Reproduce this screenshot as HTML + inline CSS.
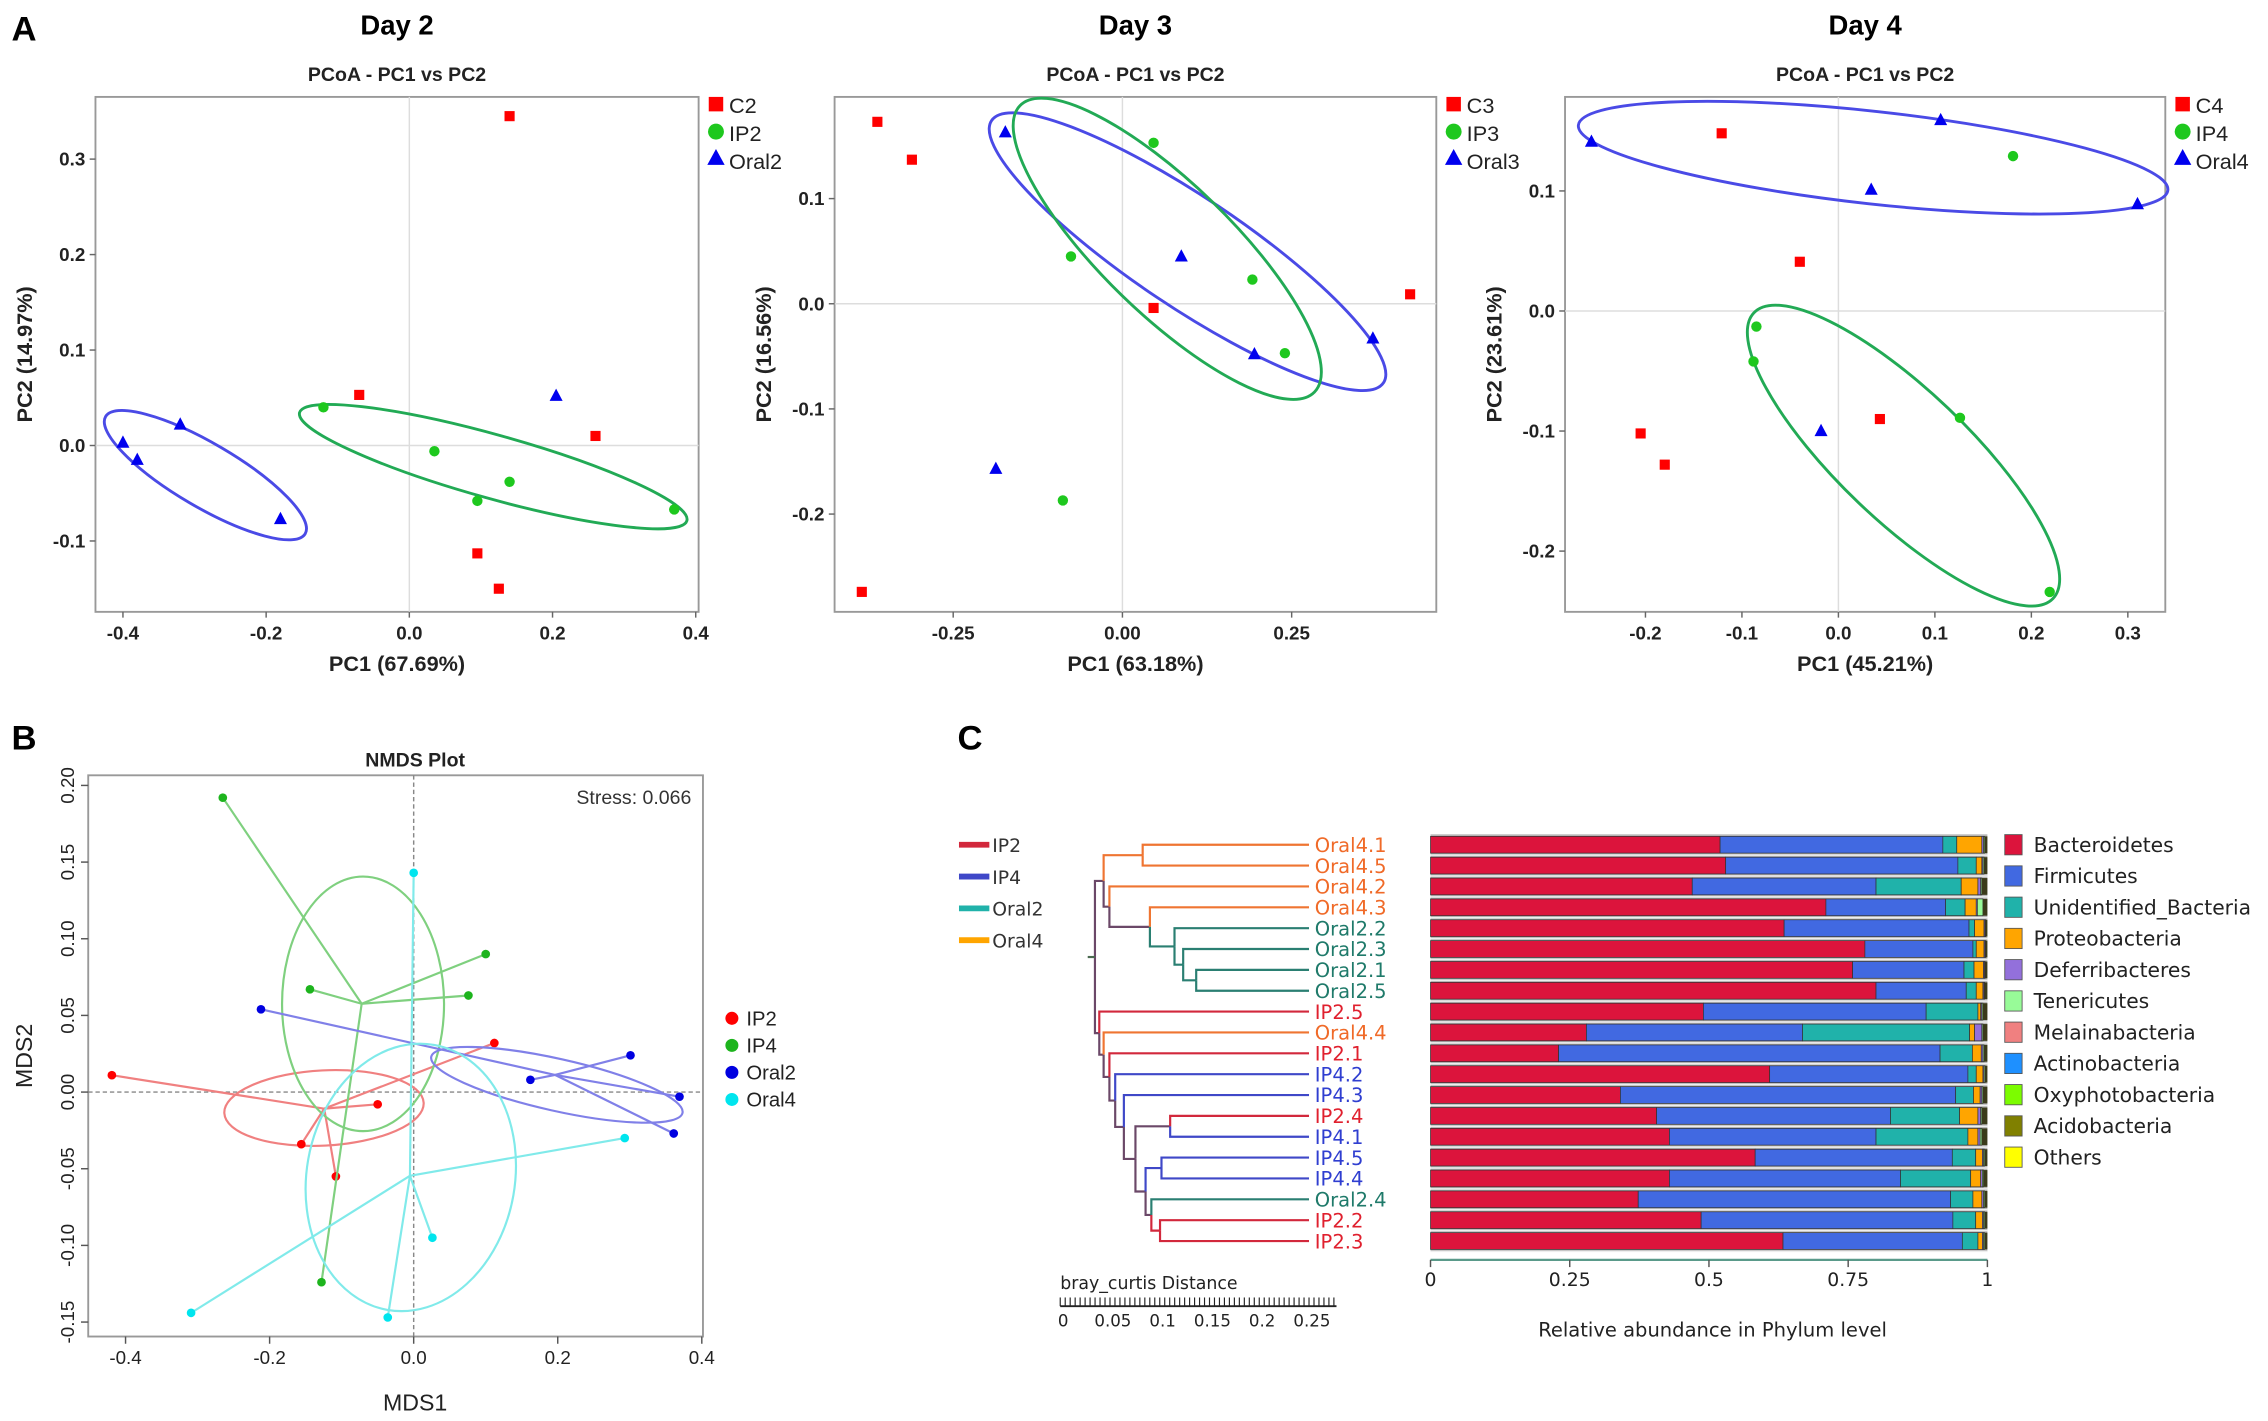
<!DOCTYPE html>
<html><head><meta charset="utf-8"><style>
html,body{margin:0;padding:0;background:#fff;}
svg{display:block;font-family:"Liberation Sans",sans-serif;}
.dv{font-family:"DejaVu Sans","Liberation Sans",sans-serif;}
</style></head><body>
<svg id="fig" width="2268" height="1421" viewBox="0 0 1568 982.4" preserveAspectRatio="none" xmlns="http://www.w3.org/2000/svg">
<g id="root"></g>
</svg>
<script>
// ===== PCoA data (Day 2/3/4) =====
const d2_C_x=[0.14,-0.07,0.26,0.095,0.125], d2_C_y=[0.345,0.053,0.01,-0.113,-0.15];
const d2_IP_x=[-0.12,0.035,0.14,0.095,0.37], d2_IP_y=[0.04,-0.006,-0.038,-0.058,-0.067];
const d2_O_x=[-0.40,-0.38,-0.32,-0.18,0.205], d2_O_y=[0.003,-0.015,0.022,-0.077,0.052];
const d3_C_x=[-0.362,-0.311,0.046,0.425,-0.385], d3_C_y=[0.173,0.137,-0.004,0.009,-0.274];
const d3_IP_x=[0.046,-0.076,0.192,0.240,-0.088], d3_IP_y=[0.153,0.045,0.023,-0.047,-0.187];
const d3_O_x=[-0.173,0.087,0.195,0.370,-0.187], d3_O_y=[0.163,0.045,-0.048,-0.033,-0.157];
const d4_C_x=[-0.121,-0.040,-0.205,-0.180,0.043], d4_C_y=[0.148,0.041,-0.102,-0.128,-0.090];
const d4_IP_x=[0.181,-0.085,-0.088,0.126,0.219], d4_IP_y=[0.129,-0.013,-0.042,-0.089,-0.234];
const d4_O_x=[-0.256,0.106,0.034,0.310,-0.018], d4_O_y=[0.141,0.159,0.101,0.089,-0.100];
const d2_xticks=[-0.4,-0.2,0.0,0.2,0.4], d2_yticks=[0.3,0.2,0.1,0.0,-0.1];
const d3_xticks=[-0.25,0.00,0.25], d3_yticks=[0.1,0.0,-0.1,-0.2];
const d4_xticks=[-0.2,-0.1,0.0,0.1,0.2,0.3], d4_yticks=[0.1,0.0,-0.1,-0.2];
// ===== NMDS data =====
const n_IP2_x=[-0.419,-0.156,-0.108,-0.050,0.112], n_IP2_y=[0.011,-0.034,-0.055,-0.008,0.032];
const n_IP4_x=[-0.265,-0.144,0.076,0.100,-0.128], n_IP4_y=[0.192,0.067,0.063,0.090,-0.124];
const n_O2_x=[-0.212,0.162,0.301,0.369,0.361], n_O2_y=[0.054,0.008,0.024,-0.003,-0.027];
const n_O4_x=[0.0,0.293,0.026,-0.036,-0.309], n_O4_y=[0.143,-0.030,-0.095,-0.147,-0.144];
const n_xticks=[-0.4,-0.2,0.0,0.2,0.4], n_yticks=[0.20,0.15,0.10,0.05,0.00,-0.05,-0.10,-0.15];
// ===== Bar data (Panel C) =====
const samples=["Oral4.1","Oral4.5","Oral4.2","Oral4.3","Oral2.2","Oral2.3","Oral2.1","Oral2.5","IP2.5","Oral4.4","IP2.1","IP4.2","IP4.3","IP2.4","IP4.1","IP4.5","IP4.4","Oral2.4","IP2.2","IP2.3"];
const bacteroidetes=[0.52,0.53,0.47,0.71,0.635,0.78,0.758,0.80,0.49,0.28,0.23,0.609,0.341,0.406,0.429,0.583,0.429,0.373,0.486,0.633];
const firmicutes=[0.40,0.417,0.33,0.215,0.332,0.194,0.20,0.162,0.40,0.388,0.685,0.356,0.602,0.42,0.371,0.354,0.415,0.561,0.452,0.322];
const unidentified=[0.025,0.033,0.153,0.035,0.01,0.006,0.018,0.018,0.093,0.30,0.058,0.015,0.032,0.124,0.165,0.042,0.126,0.04,0.041,0.028];
const proteobacteria=[0.045,0.01,0.03,0.02,0.017,0.014,0.017,0.012,0.005,0.009,0.016,0.012,0.012,0.033,0.018,0.012,0.018,0.016,0.012,0.008];
const deferribacteres=[0.003,0.002,0.005,0.002,0.002,0.002,0.002,0.002,0.002,0.013,0.003,0.002,0.003,0.005,0.004,0.002,0.003,0.003,0.002,0.002];
const tenericutes=[0.002,0.002,0.002,0.01,0.001,0.001,0.001,0.001,0.002,0.002,0.002,0.002,0.002,0.002,0.003,0.002,0.002,0.002,0.002,0.002];
const phyla=["Bacteroidetes","Firmicutes","Unidentified_Bacteria","Proteobacteria","Deferribacteres","Tenericutes","Melainabacteria","Actinobacteria","Oxyphotobacteria","Acidobacteria","Others"];
const phylaColors=["#dc143c","#4169e1","#20b2aa","#ffa500","#9370db","#98fb98","#f08080","#1e90ff","#7cfc00","#808000","#ffff00"];
const barTicks=[0,0.25,0.5,0.75,1];
const distTicks=[0,0.05,0.1,0.15,0.2,0.25];

const NS="http://www.w3.org/2000/svg";
const root=document.getElementById('root');
function mk(tag,attrs,parent,text){const e=document.createElementNS(NS,tag);for(const k in attrs)e.setAttribute(k,attrs[k]);if(text!==undefined)e.textContent=text;(parent||root).appendChild(e);return e;}

let el;
[["A",18,28],["B",18,518],["C",672,518]].forEach(p=>{
  el=mk('text',{x:p[1]-10,y:p[2],'font-size':24,'font-weight':'bold'},root,p[0]);
  
  
});

function pcoa(cfg){
  const g=mk('g',{});
  
  
  const X=v=>cfg.x0+v*cfg.xs, Y=v=>cfg.y0-v*cfg.ys;
  el=mk('text',{x:(cfg.L+cfg.R)/2,y:24,'font-size':19,'font-weight':'bold','text-anchor':'middle'},g,cfg.day);
  
  
  el=mk('text',{x:(cfg.L+cfg.R)/2,y:56,'font-size':13.5,'font-weight':'bold','text-anchor':'middle','fill':'#222'},g,'PCoA - PC1 vs PC2');
  
  
  el=mk('rect',{x:cfg.L,y:67,width:cfg.R-cfg.L,height:356,fill:'#fff',stroke:'#999','stroke-width':1.3},g);
  
  
  el=mk('line',{x1:X(0),x2:X(0),y1:67,y2:423,stroke:'#ddd','stroke-width':1},g);
  
  
  el=mk('line',{x1:cfg.L,x2:cfg.R,y1:Y(0),y2:Y(0),stroke:'#ddd','stroke-width':1},g);
  
  
  cfg.xt.forEach(t=>{
    el=mk('line',{x1:X(t),x2:X(t),y1:423,y2:427,stroke:'#666'},g);
    
    
    el=mk('text',{x:X(t),y:442,'font-size':13,'font-weight':'bold','text-anchor':'middle','fill':'#222'},g,cfg.xf(t));
    
    
  });
  cfg.yt.forEach(t=>{
    el=mk('line',{x1:cfg.L-4,x2:cfg.L,y1:Y(t),y2:Y(t),stroke:'#666'},g);
    
    
    el=mk('text',{x:cfg.L-7,y:Y(t)+4.5,'font-size':13,'font-weight':'bold','text-anchor':'end','fill':'#222'},g,t.toFixed(1));
    
    
  });
  el=mk('text',{x:(cfg.L+cfg.R)/2,y:464,'font-size':15,'font-weight':'bold','text-anchor':'middle','fill':'#222'},g,cfg.xl);
  
  
  el=mk('text',{x:0,y:0,'font-size':15,'font-weight':'bold','text-anchor':'middle','fill':'#222',transform:`translate(${cfg.L-44},245) rotate(-90)`},g,cfg.yl);
  
  
  cfg.ell.forEach(e=>{
    el=mk('ellipse',{cx:e[0],cy:e[1],rx:e[2],ry:e[3],transform:`rotate(${e[4]} ${e[0]} ${e[1]})`,fill:'none',stroke:e[5],'stroke-width':2},g);
    
    
  });
  cfg.C[0].forEach((v,i)=>{
    el=mk('rect',{x:X(v)-3.5,y:Y(cfg.C[1][i])-3.5,width:7,height:7,fill:'#f00'},g);
    
    
  });
  cfg.IP[0].forEach((v,i)=>{
    el=mk('circle',{cx:X(v),cy:Y(cfg.IP[1][i]),r:3.6,fill:'#1ec81e'},g);
    
    
  });
  cfg.O[0].forEach((v,i)=>{
    const x=X(v),y=Y(cfg.O[1][i]);
    el=mk('polygon',{points:`${x},${y-5} ${x-4.5},${y+3.5} ${x+4.5},${y+3.5}`,fill:'#0000ee'},g);
    
    
  });
  const lx=cfg.R+7;
  el=mk('rect',{x:lx,y:67,width:10,height:10,fill:'#f00'},g);
  
  
  el=mk('circle',{cx:lx+5,cy:91,r:5.5,fill:'#1ec81e'},g);
  
  
  el=mk('polygon',{points:`${lx+5},${103} ${lx-1},${114} ${lx+11},${114}`,fill:'#0000ee'},g);
  
  
  cfg.leg.forEach((t,i)=>{
    el=mk('text',{x:lx+14,y:78+i*19.5,'font-size':15,'fill':'#222'},g,t);
    
    
  });
}
const f1=t=>t.toFixed(1), f2=t=>t.toFixed(2);
pcoa({name:'pcoa-day2',day:'Day 2',L:66,R:483,x0:283,xs:495,y0:308,ys:660,xt:d2_xticks,yt:d2_yticks,xf:f1,
  xl:'PC1 (67.69%)',yl:'PC2 (14.97%)',C:[d2_C_x,d2_C_y],IP:[d2_IP_x,d2_IP_y],O:[d2_O_x,d2_O_y],leg:['C2','IP2','Oral2'],
  ell:[[142,328.5,80,22,30.4,'#4a4ae6'],[341,322.6,139,22,15.6,'#22aa55']]});
pcoa({name:'pcoa-day3',day:'Day 3',L:577,R:993,x0:776,xs:468,y0:210,ys:727,xt:d3_xticks,yt:d3_yticks,xf:f2,
  xl:'PC1 (63.18%)',yl:'PC2 (16.56%)',C:[d3_C_x,d3_C_y],IP:[d3_IP_x,d3_IP_y],O:[d3_O_x,d3_O_y],leg:['C3','IP3','Oral3'],
  ell:[[821,174,163,38,33.8,'#4a4ae6'],[807,172,142,45,44.2,'#22aa55']]});
pcoa({name:'pcoa-day4',day:'Day 4',L:1082,R:1497,x0:1271,xs:667,y0:215,ys:830,xt:d4_xticks,yt:d4_yticks,xf:f1,
  xl:'PC1 (45.21%)',yl:'PC2 (23.61%)',C:[d4_C_x,d4_C_y],IP:[d4_IP_x,d4_IP_y],O:[d4_O_x,d4_O_y],leg:['C4','IP4','Oral4'],
  ell:[[1295,109,205,32,6.3,'#4a4ae6'],[1316,315,143,45,43.7,'#22aa55']]});

// ===== NMDS =====
(function(){
  const g=mk('g',{});
  
  
  const L=61,R=486,T=536,B=924;
  const X=v=>286+v*498, Y=v=>755-v*1060;
  el=mk('text',{x:287,y:530,'font-size':13.5,'font-weight':'bold','text-anchor':'middle','fill':'#222'},g,'NMDS Plot');
  
  
  el=mk('rect',{x:L,y:T,width:R-L,height:B-T,fill:'#fff',stroke:'#999','stroke-width':1.3},g);
  
  
  el=mk('line',{x1:X(0),x2:X(0),y1:T,y2:B,stroke:'#888','stroke-dasharray':'3,2'},g);
  
  
  el=mk('line',{x1:L,x2:R,y1:Y(0),y2:Y(0),stroke:'#888','stroke-dasharray':'3,2'},g);
  
  
  el=mk('text',{x:478,y:556,'font-size':13.5,'text-anchor':'end','fill':'#333'},g,'Stress:  0.066');
  
  
  n_xticks.forEach(t=>{
    el=mk('line',{x1:X(t),x2:X(t),y1:B,y2:B+5,stroke:'#555'},g);
    
    
    el=mk('text',{x:X(t),y:B+19,'font-size':13,'text-anchor':'middle','fill':'#222'},g,t.toFixed(1));
    
    
  });
  n_yticks.forEach(t=>{
    el=mk('line',{x1:L-5,x2:L,y1:Y(t),y2:Y(t),stroke:'#555'},g);
    
    
    el=mk('text',{x:0,y:0,'font-size':13,'text-anchor':'middle','fill':'#222',transform:`translate(${L-10},${Y(t)}) rotate(-90)`},g,t.toFixed(2));
    
    
  });
  el=mk('text',{x:287,y:975,'font-size':16,'text-anchor':'middle','fill':'#222'},g,'MDS1');
  
  
  el=mk('text',{x:0,y:0,'font-size':16,'text-anchor':'middle','fill':'#222',transform:'translate(22,730) rotate(-90)'},g,'MDS2');
  
  
  const groups=[[n_IP2_x,n_IP2_y,'#f00','#f08080','IP2',[224,766,69,26,-3]],[n_IP4_x,n_IP4_y,'#1db41d','#7fd07f','IP4',[251,694,56,88,0]],
    [n_O2_x,n_O2_y,'#0000e0','#8080e8','Oral2',[385,750,89,18,12.6]],[n_O4_x,n_O4_y,'#00e5ee','#80eaea','Oral4',[284,814,72,93,10]]];
  groups.forEach((gr,k)=>{
    const e=gr[5];
    el=mk('ellipse',{cx:e[0],cy:e[1],rx:e[2],ry:e[3],transform:`rotate(${e[4]} ${e[0]} ${e[1]})`,fill:'none',stroke:gr[3],'stroke-width':1.5},g);
    
    
    const cx=gr[0].reduce((a,b)=>a+b,0)/gr[0].length, cy=gr[1].reduce((a,b)=>a+b,0)/gr[1].length;
    gr[0].forEach((v,i)=>{
      el=mk('line',{x1:X(cx),y1:Y(cy),x2:X(v),y2:Y(gr[1][i]),stroke:gr[3],'stroke-width':1.5},g);
      
      
    });
    gr[0].forEach((v,i)=>{
      el=mk('circle',{cx:X(v),cy:Y(gr[1][i]),r:3,fill:gr[2]},g);
      
      
    });
    el=mk('circle',{cx:506,cy:704+k*18.7,r:4.5,fill:gr[2]},g);
    
    
    el=mk('text',{x:516,y:709+k*18.7,'font-size':14,'fill':'#222'},g,gr[4]);
    
    
  });
})();

// ===== Panel C =====
(function(){
  const g=mk('g',{class:'dv'});
  
  
  const rowY=i=>584+i*14.42;
  const X=v=>989+v*385;
  const grpCol={Oral4:'#ef7532',Oral2:'#2a7f72',IP2:'#d2283c',IP4:'#3f48c8'};
  const txtCol={Oral4:'#f06a28',Oral2:'#1f7a6a',IP2:'#e0202e',IP4:'#2f3ed0'};
  const legCol={IP2:'#d2283c',IP4:'#3f48c8',Oral2:'#20b2aa',Oral4:'#ffa500'};
  const grpOf=s=>s.split('.')[0];
  ['IP2','IP4','Oral2','Oral4'].forEach((k,i)=>{
    el=mk('line',{x1:663,x2:684,y1:584+i*22,y2:584+i*22,stroke:legCol[k],'stroke-width':4},g);
    
    
    el=mk('text',{x:686,y:589+i*22,'font-size':13,'fill':'#333'},g,k);
    
    
  });
  const A={x:790,c:[0,1]};
  let o=[{x:827,c:[6,7]}];o.push({x:818,c:[5,o[0]]});o.push({x:812,c:[4,o[1]]});o.push({x:795,c:[3,o[2]]});o.push({x:767,c:[2,o[3]]});
  const oralTop={x:763,c:[A,o[4]]};
  const L1={x:809,c:[13,14]},L2={x:803,c:[15,16]},L3={x:802,c:[18,19]},L4={x:796,c:[17,L3]},L5={x:792,c:[L2,L4]},L6={x:785,c:[L1,L5]},
    L7={x:777,c:[12,L6]},L8={x:771,c:[11,L7]},L9={x:767,c:[10,L8]},L10={x:763,c:[9,L9]},L11={x:760,c:[8,L10]};
  const tree={x:757,c:[oralTop,L11]};
  const leafX=905;
  function info(n){ if(typeof n==='number') return {y:rowY(n),x:leafX,col:grpCol[grpOf(samples[n])]};
    const a=info(n.c[0]),b=info(n.c[1]);
    return {y:(a.y+b.y)/2,x:n.x,col:a.col===b.col?a.col:'#6b4868'}; }
  function draw(n){ if(typeof n==='number') return;
    const I=info(n);
    [n.c[0],n.c[1]].forEach(ch=>{const c=info(ch);
      el=mk('polyline',{points:`${n.x},${I.y} ${n.x},${c.y} ${c.x},${c.y}`,fill:'none',stroke:c.col,'stroke-width':1.5},g);
      
      
      draw(ch);});
  }
  draw(tree);
  el=mk('line',{x1:752,x2:757,y1:info(tree).y,y2:info(tree).y,stroke:'#4a6a50','stroke-width':1.5},g);
  
  
  samples.forEach((s,i)=>{
    el=mk('text',{x:909,y:rowY(i)+5,'font-size':13.5,'fill':txtCol[grpOf(s)]},g,s);
    
    
  });
  el=mk('text',{x:733,y:891,'font-size':12,'fill':'#222'},g,'bray_curtis Distance');
  
  
  el=mk('line',{x1:733,x2:924,y1:903,y2:903,stroke:'#222','stroke-width':1.3},g);
  
  
  for(let k=0;k<=55;k++){
    el=mk('line',{x1:733+k*3.44,x2:733+k*3.44,y1:897,y2:903,stroke:'#222','stroke-width':0.8},g);
    
    
  }
  distTicks.forEach(t=>{
    el=mk('text',{x:735+t*688,y:917,'font-size':11.5,'text-anchor':'middle','fill':'#222'},g,String(t));
    
    
  });
  el=mk('rect',{x:989,y:rowY(0)-7.2,width:385,height:rowY(19)-rowY(0)+14.4,fill:'#b8b8b8'},g);
  
  
  const series=[bacteroidetes,firmicutes,unidentified,proteobacteria,deferribacteres,tenericutes];
  samples.forEach((s,i)=>{
    el=mk('line',{x1:989,x2:1374,y1:rowY(i)+7.2,y2:rowY(i)+7.2,stroke:'#eee','stroke-width':1},g);
    
    
    let cum=0;
    series.forEach((arr,k)=>{
      const v=arr[i];
      el=mk('rect',{x:X(cum),y:rowY(i)-5.8,width:Math.max(0,X(cum+v)-X(cum)),height:11.6,fill:phylaColors[k],stroke:'#333','stroke-width':0.5},g);
      
      
      cum+=v;
    });
    el=mk('rect',{x:X(cum),y:rowY(i)-5.8,width:Math.max(0,X(1)-X(cum)),height:11.6,fill:'#3a3a1a'},g);
    
    
  });
  el=mk('line',{x1:989,x2:1374,y1:871,y2:871,stroke:'#5a9a8a','stroke-width':1.5},g);
  
  
  barTicks.forEach(t=>{
    el=mk('line',{x1:X(t),x2:X(t),y1:871,y2:876,stroke:'#555'},g);
    
    
    el=mk('text',{x:X(t),y:889,'font-size':13,'text-anchor':'middle','fill':'#222'},g,String(t));
    
    
  });
  el=mk('text',{x:1184,y:924,'font-size':13.5,'text-anchor':'middle','fill':'#222'},g,'Relative abundance in Phylum level');
  
  
  phyla.forEach((p,k)=>{
    el=mk('rect',{x:1386,y:577+k*21.6,width:12,height:14,fill:phylaColors[k],stroke:'#555','stroke-width':0.6},g);
    
    
    el=mk('text',{x:1406,y:589+k*21.6,'font-size':14,'fill':'#222'},g,p);
    
    
  });
})();
</script>
</body></html>
